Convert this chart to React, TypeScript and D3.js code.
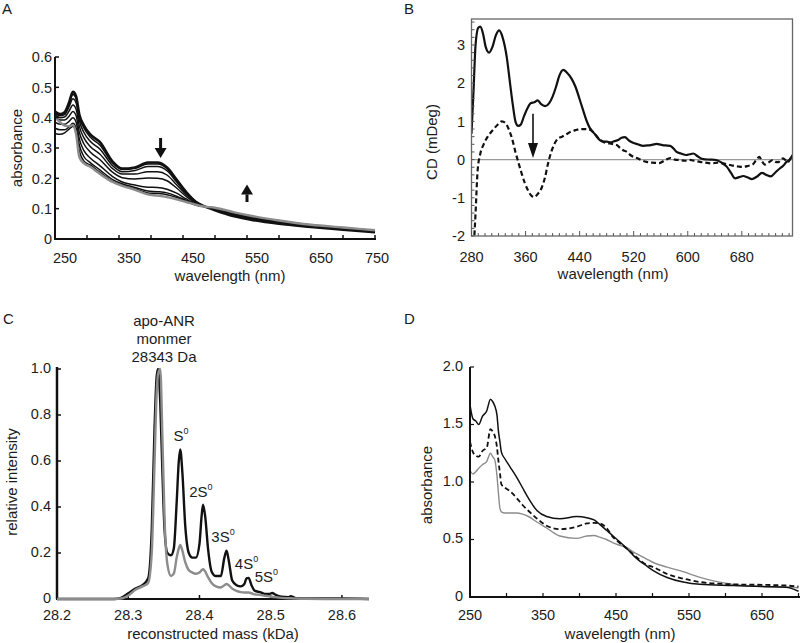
import React from 'react';
import * as d3 from 'd3';

const FONT = '"Liberation Sans", Arial, Helvetica, sans-serif';
const TXT = '#1c1c1c';

// ---------------- Panel A : UV-vis titration ----------------
const wlA = [250, 258, 265, 272, 278, 283, 288, 295, 305, 320, 340, 355, 375, 395, 410, 425, 440, 455, 470, 480, 500, 530, 560, 600, 650, 700, 750];
const absA1 = [0.420, 0.412, 0.418, 0.450, 0.485, 0.470, 0.410, 0.375, 0.345, 0.320, 0.255, 0.232, 0.236, 0.252, 0.252, 0.236, 0.196, 0.155, 0.123, 0.111, 0.095, 0.075, 0.062, 0.050, 0.040, 0.031, 0.022];
const absA2 = [0.418, 0.410, 0.415, 0.445, 0.476, 0.462, 0.402, 0.366, 0.336, 0.310, 0.250, 0.229, 0.233, 0.247, 0.247, 0.232, 0.193, 0.154, 0.123, 0.111, 0.096, 0.077, 0.064, 0.051, 0.041, 0.032, 0.023];
const absA3 = [0.415, 0.406, 0.410, 0.436, 0.462, 0.448, 0.390, 0.352, 0.322, 0.297, 0.242, 0.222, 0.226, 0.239, 0.239, 0.225, 0.188, 0.151, 0.122, 0.111, 0.097, 0.079, 0.066, 0.053, 0.042, 0.033, 0.024];
const absA4 = [0.410, 0.400, 0.402, 0.422, 0.442, 0.428, 0.372, 0.334, 0.305, 0.280, 0.232, 0.214, 0.214, 0.222, 0.222, 0.211, 0.179, 0.146, 0.120, 0.110, 0.098, 0.081, 0.068, 0.055, 0.043, 0.034, 0.025];
const absA5 = [0.400, 0.392, 0.392, 0.405, 0.420, 0.406, 0.352, 0.314, 0.287, 0.262, 0.220, 0.202, 0.198, 0.201, 0.200, 0.192, 0.168, 0.140, 0.118, 0.110, 0.099, 0.083, 0.070, 0.056, 0.044, 0.035, 0.026];
const absA6 = [0.385, 0.378, 0.378, 0.388, 0.400, 0.385, 0.330, 0.292, 0.267, 0.242, 0.206, 0.188, 0.178, 0.171, 0.170, 0.164, 0.151, 0.132, 0.115, 0.109, 0.100, 0.085, 0.072, 0.058, 0.045, 0.036, 0.027];
const absA7 = [0.365, 0.360, 0.360, 0.370, 0.382, 0.366, 0.310, 0.272, 0.252, 0.228, 0.196, 0.182, 0.170, 0.158, 0.156, 0.152, 0.141, 0.127, 0.113, 0.108, 0.101, 0.086, 0.073, 0.059, 0.046, 0.037, 0.028];
const absA8 = [0.348, 0.345, 0.350, 0.362, 0.372, 0.350, 0.290, 0.257, 0.244, 0.220, 0.190, 0.177, 0.165, 0.152, 0.150, 0.146, 0.137, 0.124, 0.112, 0.108, 0.102, 0.087, 0.074, 0.060, 0.046, 0.037, 0.028];
const absAGray = [0.400, 0.385, 0.374, 0.372, 0.376, 0.345, 0.270, 0.250, 0.238, 0.215, 0.188, 0.175, 0.162, 0.147, 0.143, 0.138, 0.131, 0.122, 0.113, 0.108, 0.103, 0.088, 0.075, 0.061, 0.047, 0.038, 0.029];
const ticksAX = [250, 350, 450, 550, 650, 750];
const ticksAY = [0, 0.1, 0.2, 0.3, 0.4, 0.5, 0.6];
const labelsAY = ['0', '0.1', '0.2', '0.3', '0.4', '0.5', '0.6'];
const arrowA_wl = [415, 550];
const arrowA_from = [0.333, 0.122];
const arrowA_to = [0.267, 0.180];

// ---------------- Panel B : CD ----------------
const wlBsolid = [280, 283, 286, 290, 293, 297, 301, 306, 311, 316, 321, 326, 332, 337, 341, 345, 349, 353, 358, 363, 368, 373, 378, 383, 389, 395, 400, 405, 410, 416, 421, 428, 434, 440, 445, 450, 455, 460, 466, 470, 475, 480, 486, 491, 497, 502, 507, 513, 519, 526, 534, 541, 548, 554, 560, 567, 574, 579, 583, 590, 598, 603, 608, 615, 623, 632, 642, 650, 658, 664, 670, 676, 682, 689, 695, 702, 710, 716, 723, 730, 737, 742, 746, 751, 755];
const cdSolid = [0.68, 1.8, 3.0, 3.45, 3.48, 3.3, 2.95, 2.8, 2.95, 3.25, 3.38, 3.2, 2.7, 2.0, 1.45, 1.0, 0.88, 0.92, 1.15, 1.35, 1.48, 1.5, 1.55, 1.45, 1.4, 1.48, 1.65, 1.9, 2.2, 2.35, 2.28, 2.12, 1.9, 1.58, 1.3, 1.03, 0.83, 0.72, 0.6, 0.51, 0.47, 0.47, 0.45, 0.48, 0.51, 0.57, 0.59, 0.5, 0.44, 0.4, 0.36, 0.37, 0.39, 0.41, 0.39, 0.37, 0.36, 0.29, 0.21, 0.16, 0.12, 0.14, 0.16, 0.08, 0.01, 0.0, -0.01, -0.08, -0.19, -0.35, -0.49, -0.46, -0.43, -0.47, -0.51, -0.45, -0.35, -0.4, -0.44, -0.33, -0.22, -0.15, -0.06, 0.0, 0.12];
const wlBdash = [283, 286, 289, 293, 298, 304, 312, 319, 325, 330, 335, 340, 345, 349, 354, 359, 364, 369, 373, 378, 384, 389, 393, 398, 403, 408, 414, 420, 427, 434, 441, 448, 455, 461, 467, 472, 478, 485, 490, 495, 500, 505, 510, 515, 520, 525, 532, 539, 548, 558, 566, 574, 581, 588, 596, 603, 610, 618, 626, 635, 644, 652, 660, 667, 675, 682, 690, 696, 701, 706, 710, 714, 720, 726, 730, 734, 738, 741, 745, 748, 751, 754];
const cdDash = [-2.4, -1.4, -0.3, 0.15, 0.4, 0.6, 0.78, 0.92, 1.0, 0.96, 0.8, 0.55, 0.2, -0.05, -0.35, -0.62, -0.82, -0.95, -0.98, -0.9, -0.73, -0.45, -0.12, 0.2, 0.42, 0.55, 0.6, 0.66, 0.73, 0.77, 0.8, 0.8, 0.78, 0.7, 0.56, 0.5, 0.44, 0.42, 0.4, 0.38, 0.3, 0.24, 0.2, 0.12, 0.07, 0.04, -0.02, -0.06, -0.08, -0.09, -0.02, 0.04, 0.0, -0.01, -0.03, -0.01, -0.03, -0.06, -0.08, -0.1, -0.08, -0.1, -0.13, -0.16, -0.18, -0.19, -0.16, -0.13, -0.02, 0.07, -0.05, -0.13, -0.07, -0.01, -0.06, -0.07, 0.0, 0.03, -0.02, -0.07, 0.0, 0.1];
const ticksBX = [280, 360, 440, 520, 600, 680];
const ticksBY = [-2, -1, 0, 1, 2, 3];
const arrowB_wl = [371];
const arrowB_from = [1.2];
const arrowB_to = [0.04];

// ---------------- Panel C : mass spectrum ----------------
const massC = [28.2, 28.28, 28.29, 28.3, 28.31, 28.32, 28.328, 28.333, 28.337, 28.34, 28.342, 28.345, 28.348, 28.351, 28.355, 28.36, 28.364, 28.368, 28.371, 28.373, 28.376, 28.38, 28.385, 28.39, 28.395, 28.4, 28.403, 28.405, 28.408, 28.412, 28.417, 28.423, 28.43, 28.435, 28.438, 28.441, 28.446, 28.452, 28.458, 28.463, 28.466, 28.469, 28.473, 28.478, 28.485, 28.492, 28.498, 28.502, 28.507, 28.515, 28.525, 28.528, 28.535, 28.55, 28.6, 28.638];
const intBlack = [0, 0, 0.005, 0.025, 0.045, 0.06, 0.09, 0.3, 0.75, 0.97, 1.0, 0.85, 0.55, 0.3, 0.2, 0.19, 0.22, 0.42, 0.6, 0.65, 0.55, 0.32, 0.2, 0.18, 0.18, 0.24, 0.36, 0.41, 0.36, 0.22, 0.12, 0.1, 0.1, 0.18, 0.21, 0.17, 0.08, 0.06, 0.055, 0.065, 0.09, 0.092, 0.06, 0.035, 0.03, 0.022, 0.022, 0.026, 0.018, 0.01, 0.008, 0.012, 0.004, 0.002, 0.002, 0];
const intGray = [0, 0, 0.002, 0.015, 0.04, 0.055, 0.07, 0.2, 0.6, 0.9, 0.98, 1.0, 0.7, 0.35, 0.15, 0.1, 0.11, 0.18, 0.22, 0.235, 0.21, 0.16, 0.125, 0.115, 0.11, 0.115, 0.125, 0.13, 0.12, 0.095, 0.07, 0.055, 0.05, 0.06, 0.065, 0.06, 0.045, 0.035, 0.03, 0.028, 0.028, 0.028, 0.025, 0.02, 0.018, 0.014, 0.012, 0.01, 0.008, 0.005, 0.003, 0.003, 0.002, 0.001, 0, 0];
const ticksCX = [28.2, 28.3, 28.4, 28.5, 28.6];
const labelsCX = ['28.2', '28.3', '28.4', '28.5', '28.6'];
const ticksCY = [0, 0.2, 0.4, 0.6, 0.8, 1.0];
const labelsCY = ['0', '0.2', '0.4', '0.6', '0.8', '1.0'];
const peakLabels = ['', '2', '3', '4', '5'];
const peakMass = [28.374, 28.402, 28.433, 28.466, 28.494];
const peakLabelY = [0.67, 0.425, 0.23, 0.115, 0.055];
const headerC = ['apo-ANR', 'monmer', '28343 Da'];

// ---------------- Panel D : absorbance ----------------
const wlD = [250, 254, 258, 262, 267, 273, 278, 281, 284, 287, 289, 291, 293, 298, 305, 314, 322, 330, 342, 355, 373, 396, 410, 420, 428, 437, 446, 455, 465, 474, 483, 492, 501, 520, 542, 565, 610, 656, 683, 700];
const absDsolid = [1.67, 1.55, 1.53, 1.5, 1.57, 1.62, 1.72, 1.7, 1.66, 1.58, 1.44, 1.35, 1.26, 1.2, 1.13, 1.04, 0.95, 0.86, 0.75, 0.7, 0.68, 0.7, 0.69, 0.67, 0.63, 0.58, 0.53, 0.48, 0.42, 0.36, 0.31, 0.27, 0.23, 0.17, 0.13, 0.11, 0.1, 0.09, 0.085, 0.05];
const absDdash = [1.35, 1.26, 1.23, 1.22, 1.27, 1.3, 1.46, 1.44, 1.4, 1.3, 1.18, 1.08, 0.98, 0.95, 0.92, 0.86, 0.8, 0.75, 0.68, 0.62, 0.59, 0.61, 0.64, 0.645, 0.64, 0.6, 0.52, 0.47, 0.42, 0.37, 0.32, 0.28, 0.26, 0.2, 0.16, 0.13, 0.11, 0.105, 0.1, 0.09];
const absDgray = [1.1, 1.07, 1.09, 1.12, 1.15, 1.18, 1.25, 1.22, 1.19, 1.05, 0.9, 0.77, 0.74, 0.73, 0.73, 0.73, 0.72, 0.7, 0.65, 0.6, 0.53, 0.51, 0.53, 0.535, 0.52, 0.5, 0.47, 0.45, 0.43, 0.39, 0.36, 0.33, 0.3, 0.26, 0.22, 0.17, 0.11, 0.09, 0.085, 0.08];
const ticksDX = [250, 350, 450, 550, 650];
const ticksDY = [0, 0.5, 1.0, 1.5, 2.0];
const labelsDY = ['0', '0.5', '1.0', '1.5', '2.0'];

// ---------------- helpers ----------------
type Sc = d3.ScaleLinear<number, number>;
const mkLine = (xs: number[], ys: number[], sx: Sc, sy: Sc, curve = d3.curveMonotoneX) =>
  d3.line<number>().x((_, i) => sx(xs[i])).y((d) => sy(d)).curve(curve)(ys) || '';

const Arrow = ({ x, y1, y2, head = 10, half = 5, w = 2.5 }: { x: number; y1: number; y2: number; head?: number; half?: number; w?: number }) => {
  const dir = y2 > y1 ? 1 : -1;
  const base = y2 - dir * head;
  return (
    <g>
      <line x1={x} x2={x} y1={y1} y2={base} stroke="#111" strokeWidth={w} />
      <path d={`M${x - half},${base} L${x + half},${base} L${x},${y2} Z`} fill="#111" />
    </g>
  );
};

const txt = { fontFamily: FONT, fontSize: 15, fill: TXT } as const;
const tick = { fontFamily: FONT, fontSize: 14.5, fill: TXT } as const;

export default function App() {
  const xA = d3.scaleLinear().domain([250, 750]).range([55, 375]);
  const yA = d3.scaleLinear().domain([0, 0.6]).range([239, 57]);
  const xB = d3.scaleLinear().domain([280, 755]).range([471.5, 792.5]);
  const yB = d3.scaleLinear().domain([-2, 3.68]).range([236, 19]);
  const xC = d3.scaleLinear().domain([28.2, 28.638]).range([57, 369]);
  const yC = d3.scaleLinear().domain([0, 1]).range([599, 369]);
  const xD = d3.scaleLinear().domain([250, 700]).range([470, 798.5]);
  const yD = d3.scaleLinear().domain([0, 2]).range([597, 367]);

  const blackA = [absA8, absA7, absA6, absA5, absA4, absA3, absA2, absA1];
  const minorAX = d3.range(250, 751, 50);
  const minorBX = d3.range(280, 751, 10);
  const minorBY = d3.range(-2, 3.61, 0.2);
  const minorDX = d3.range(250, 701, 50);

  return (
    <svg width={800} height={643} style={{ position: 'absolute', left: 0, top: 0, background: '#fff' }}>
      <rect width={800} height={643} fill="#fff" />
      <text x={2} y={14} {...txt}>A</text>
      <text x={404} y={14} {...txt}>B</text>
      <text x={3} y={324} {...txt}>C</text>
      <text x={404} y={324} {...txt}>D</text>

      {/* ================= A ================= */}
      <g>
        {blackA.map((s, i) => (
          <path key={i} d={mkLine(wlA, s, xA, yA)} fill="none" stroke="#111" strokeWidth={i === blackA.length - 1 ? 2.6 : 1.5} />
        ))}
        <path d={mkLine(wlA, absAGray, xA, yA)} fill="none" stroke="#8c8c8c" strokeWidth={2.4} />
        <line x1={55} x2={55} y1={yA(0.6)} y2={yA(0)} stroke="#111" strokeWidth={2} />
        <line x1={54} x2={376} y1={yA(0)} y2={yA(0)} stroke="#111" strokeWidth={2} />
        {minorAX.map((t) => (
          <line key={t} x1={xA(t)} x2={xA(t)} y1={yA(0)} y2={yA(0) - 4} stroke="#111" strokeWidth={1.5} />
        ))}
        {ticksAY.map((t) => (
          <line key={t} x1={55} x2={59} y1={yA(t)} y2={yA(t)} stroke="#111" strokeWidth={1.5} />
        ))}
        {ticksAX.map((t, i) => (
          <text key={t} x={xA(t) + (i === ticksAX.length - 1 ? 2 : 10)} y={263} textAnchor="middle" {...tick}>{t}</text>
        ))}
        {ticksAY.map((t, i) => (
          <text key={t} x={52} y={yA(t)} dy="0.36em" textAnchor="end" {...tick}>{labelsAY[i]}</text>
        ))}
        <text x={230} y={281} textAnchor="middle" {...txt}>wavelength (nm)</text>
        <text transform={`translate(22,148) rotate(-90)`} textAnchor="middle" {...txt}>absorbance</text>
        {arrowA_wl.map((w, i) => (
          <Arrow key={i} x={xA(w)} y1={yA(arrowA_from[i])} y2={yA(arrowA_to[i])} head={10} half={6} w={3} />
        ))}
      </g>

      {/* ================= B ================= */}
      <g>
        <defs>
          <clipPath id="clipB">
            <rect x={471.5} y={19} width={321} height={217} />
          </clipPath>
        </defs>
        <line x1={471.5} x2={792.5} y1={yB(0)} y2={yB(0)} stroke="#999" strokeWidth={1.2} />
        <g clipPath="url(#clipB)">
          <path d={mkLine(wlBsolid, cdSolid, xB, yB)} fill="none" stroke="#111" strokeWidth={2.2} />
          <path d={mkLine(wlBdash, cdDash, xB, yB)} fill="none" stroke="#111" strokeWidth={2.2} strokeDasharray="5,3" />
        </g>
        <rect x={471.5} y={19} width={321} height={217} fill="none" stroke="#666" strokeWidth={1.3} />
        {minorBX.map((t) => (
          <line key={t} x1={xB(t)} x2={xB(t)} y1={236} y2={t % 80 === 40 ? 231 : 233} stroke="#555" strokeWidth={1} />
        ))}
        {minorBY.map((t, i) => (
          <line key={i} x1={471.5} x2={474.5} y1={yB(t)} y2={yB(t)} stroke="#555" strokeWidth={1} />
        ))}
        {ticksBX.map((t) => (
          <text key={t} x={xB(t)} y={262} textAnchor="middle" {...tick}>{t}</text>
        ))}
        {ticksBY.map((t) => (
          <text key={t} x={465} y={yB(t)} dy="0.36em" textAnchor="end" {...tick}>{t}</text>
        ))}
        <text x={613} y={279} textAnchor="middle" {...txt}>wavelength (nm)</text>
        <text transform={`translate(437,142) rotate(-90)`} textAnchor="middle" {...txt}>CD (mDeg)</text>
        {arrowB_wl.map((w, i) => (
          <Arrow key={i} x={xB(w)} y1={yB(arrowB_from[i])} y2={yB(arrowB_to[i])} head={15} half={5} w={1.6} />
        ))}
      </g>

      {/* ================= C ================= */}
      <g>
        <line x1={57} x2={57} y1={yC(1) - 2} y2={yC(0)} stroke="#111" strokeWidth={2.5} />
        <line x1={56} x2={369} y1={yC(0)} y2={yC(0)} stroke="#111" strokeWidth={2} />
        {ticksCY.map((t) => (
          <line key={t} x1={57} x2={61} y1={yC(t)} y2={yC(t)} stroke="#111" strokeWidth={1.5} />
        ))}
        {ticksCX.map((t) => (
          <line key={t} x1={xC(t)} x2={xC(t)} y1={yC(0)} y2={yC(0) - 4} stroke="#111" strokeWidth={1.5} />
        ))}
        <path d={mkLine(massC, intBlack, xC, yC)} fill="none" stroke="#111" strokeWidth={2.4} />
        <path d={mkLine(massC, intGray, xC, yC)} fill="none" stroke="#8c8c8c" strokeWidth={2.4} />
        {ticksCX.map((t, i) => (
          <text key={t} x={xC(t)} y={620} textAnchor="middle" {...tick}>{labelsCX[i]}</text>
        ))}
        {ticksCY.map((t, i) => (
          <text key={t} x={51} y={yC(t) - 1} dy="0.34em" textAnchor="end" {...tick}>{labelsCY[i]}</text>
        ))}
        <text x={213} y={639} textAnchor="middle" {...txt}>reconstructed mass (kDa)</text>
        <text transform={`translate(17,482) rotate(-90)`} textAnchor="middle" {...txt}>relative intensity</text>
        {headerC.map((s, i) => (
          <text key={i} x={164} y={326 + i * 18} textAnchor="middle" {...txt}>{s}</text>
        ))}
        {peakMass.map((m, i) => (
          <text key={i} x={xC(m)} y={yC(peakLabelY[i]) - 4} textAnchor="middle" {...txt}>
            {peakLabels[i]}S<tspan fontSize={9} dy={-7}>0</tspan>
          </text>
        ))}
      </g>

      {/* ================= D ================= */}
      <g>
        <path d={mkLine(wlD, absDgray, xD, yD)} fill="none" stroke="#8c8c8c" strokeWidth={1.4} />
        <path d={mkLine(wlD, absDdash, xD, yD)} fill="none" stroke="#111" strokeWidth={1.8} strokeDasharray="5,3" />
        <path d={mkLine(wlD, absDsolid, xD, yD)} fill="none" stroke="#111" strokeWidth={1.5} />
        <line x1={470} x2={470} y1={yD(2)} y2={yD(0)} stroke="#111" strokeWidth={2} />
        <line x1={469} x2={800} y1={yD(0)} y2={yD(0)} stroke="#111" strokeWidth={2} />
        {minorDX.map((t) => (
          <line key={t} x1={xD(t)} x2={xD(t)} y1={yD(0)} y2={yD(0) - 4} stroke="#111" strokeWidth={1.2} />
        ))}
        {ticksDY.map((t) => (
          <line key={t} x1={470} x2={474} y1={yD(t)} y2={yD(t)} stroke="#111" strokeWidth={1.2} />
        ))}
        {ticksDX.map((t) => (
          <text key={t} x={xD(t)} y={620} textAnchor="middle" {...tick}>{t}</text>
        ))}
        {ticksDY.map((t, i) => (
          <text key={t} x={463} y={yD(t) - 1} dy="0.34em" textAnchor="end" {...tick}>{labelsDY[i]}</text>
        ))}
        <text x={620} y={639} textAnchor="middle" {...txt}>wavelength (nm)</text>
        <text transform={`translate(432,485) rotate(-90)`} textAnchor="middle" {...txt}>absorbance</text>
      </g>
    </svg>
  );
}
